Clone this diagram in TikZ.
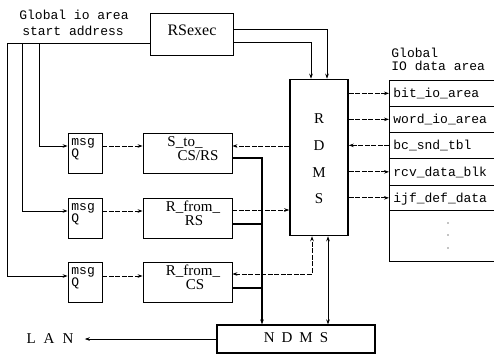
\documentclass[tikz,border=0pt]{standalone}
\usepackage{fontspec}
\setmainfont{Liberation Serif}
\setmonofont{Liberation Mono}
\usetikzlibrary{arrows.meta}
\tikzset{
  box/.style={draw, inner sep=0pt, line width=0.8pt},
  mono/.style={font=\ttfamily\fontsize{13}{14}\selectfont, inner sep=0pt},
  serif/.style={font=\fontsize{15}{17}\selectfont, inner sep=0pt},
  arr/.style={-{Stealth[length=5pt,width=3.6pt]}},
  biarr/.style={{Stealth[length=5pt,width=3.6pt]}-{Stealth[length=5pt,width=3.6pt]}},
  dsh/.style={dash pattern=on 5pt off 1.5pt},
  row/.style={draw, inner sep=0pt, line width=0.7pt, minimum width=111pt},
  heavy/.style={line width=1.2pt}
}
\begin{document}
\begin{tikzpicture}[x=1pt,y=-1pt,line width=0.8pt]
\useasboundingbox (0,0) rectangle (494,354);

% top-left label
\node[mono, anchor=base] (g1) at (74,19) {Global io area};
\node[mono, anchor=base] (g2) at (73,35) {start address};

% RSexec
\node[box, minimum width=83pt, minimum height=42pt] (rsexec) at (191.5,34) {};
\node[serif, font=\fontsize{16}{18}\selectfont] (rsexecT) at (192,30) {RSexec};

% msg Q boxes
\node[box, minimum width=34pt, minimum height=40pt] (q1) at (85,153) {};
\node[box, minimum width=34pt, minimum height=40pt] (q2) at (85,218) {};
\node[box, minimum width=34pt, minimum height=40pt] (q3) at (85,282) {};
\node[mono, anchor=base west] (q1a) at (71,145) {msg};
\node[mono, anchor=base west] (q1b) at (71,157) {Q};
\node[mono, anchor=base west] (q2a) at (71,210) {msg};
\node[mono, anchor=base west] (q2b) at (71,222) {Q};
\node[mono, anchor=base west] (q3a) at (71,274) {msg};
\node[mono, anchor=base west] (q3b) at (71,286) {Q};

% process boxes
\node[box, minimum width=89pt, minimum height=40pt] (sto) at (187.5,153) {};
\node[box, minimum width=89pt, minimum height=40pt] (rfr) at (187.5,218) {};
\node[box, minimum width=89pt, minimum height=40pt] (rfc) at (187.5,282) {};
\node[serif, anchor=base] (stoA) at (185,146.5) {S\_to\_};
\node[serif, anchor=base] (stoB) at (198,160.5) {CS/RS};
\node[serif, anchor=base] (rfrA) at (193,211.5) {R\_from\_};
\node[serif, anchor=base] (rfrB) at (194,225.5) {RS};
\node[serif, anchor=base] (rfcA) at (193,275.5) {R\_from\_};
\node[serif, anchor=base] (rfcB) at (195,289.5) {CS};

% RDMS
\node[box, line width=1.6pt, minimum width=58pt, minimum height=156pt] (rdms) at (319,157.5) {};
\node[serif] (rR) at (319,119) {R};
\node[serif] (rD) at (319,146) {D};
\node[serif] (rM) at (319,173) {M};
\node[serif] (rS) at (319,199) {S};

% Global IO data area table
\node[mono, anchor=base west] (h1) at (391,57) {Global};
\node[mono, anchor=base west] (h2) at (391,70) {IO data area};
\node[row, minimum height=26pt, anchor=north west] (t1) at (389,80) {};
\node[row, minimum height=26pt, anchor=north west] (t2) at (389,106) {};
\node[row, minimum height=26pt, anchor=north west] (t3) at (389,132) {};
\node[row, minimum height=27pt, anchor=north west] (t4) at (389,158) {};
\node[row, minimum height=25pt, anchor=north west] (t5) at (389,185) {};
\node[row, minimum height=51pt, anchor=north west] (t6) at (389,210) {};
\node[mono, anchor=base west] (t1T) at (393,97) {bit\_io\_area};
\node[mono, anchor=base west] (t2T) at (393,123) {word\_io\_area};
\node[mono, anchor=base west] (t3T) at (393,149) {bc\_snd\_tbl};
\node[mono, anchor=base west] (t4T) at (393,176) {rcv\_data\_blk};
\node[mono, anchor=base west] (t5T) at (393,202) {ijf\_def\_data};
\fill (448,223) circle (0.7pt);
\fill (448,235) circle (0.7pt);
\fill (448,248) circle (0.7pt);

% NDMS and LAN
\node[box, line width=1.2pt, minimum width=158pt, minimum height=28pt] (ndms) at (296,339) {};
\node[serif] (ndmsT) at (296,338) {N\hspace{7pt}D\hspace{7pt}M\hspace{7pt}S};
\node[serif] (lan) at (50,339) {L\hspace{8pt}A\hspace{8pt}N};

% RSexec -> RDMS
\draw[arr] (rsexec.east |- 0,29) -| (rdms.north -| 327,0);
\draw[arr] (rsexec.east |- 0,42) -| (rdms.north -| 311,0);

% start-address bus
\coordinate (bus1) at (39,43);
\coordinate (bus2) at (22,43);
\coordinate (bus3) at (7,43);
\draw (rsexec.west |- 0,43) -- (bus3);
\draw[arr] (bus1) |- (q1.west |- 0,146);
\draw[arr] (bus2) |- (q2.west |- 0,211);
\draw[arr] (bus3) |- (q3.west |- 0,276);

% msgQ -> processes
\draw[arr,dsh] (q1.east |- 0,146) -- (sto.west |- 0,146);
\draw[arr,dsh] (q2.east |- 0,211) -- (rfr.west |- 0,211);
\draw[arr,dsh] (q3.east |- 0,276) -- (rfc.west |- 0,276);

% processes <-> RDMS
\draw[arr,dsh] (rdms.west |- 0,146) -- (sto.east |- 0,146);
\draw[arr,dsh] (rfr.east |- 0,210) -- (rdms.west |- 0,210);
\draw[biarr,dsh] (rfc.east |- 0,274) -| (rdms.south -| 312,0);

% processes -> NDMS
\draw[arr,heavy] (sto.east |- 0,158) -| (ndms.north -| 262,0);
\draw[heavy] (rfr.east |- 0,224) -- (262,224);
\draw[heavy] (rfc.east |- 0,288) -- (262,288);

% RDMS <-> NDMS
\draw[biarr] (rdms.south -| 328,0) -- (ndms.north -| 328,0);

% RDMS <-> table
\draw[arr,dsh] (rdms.east |- t1.west) -- (t1.west);
\draw[arr,dsh] (rdms.east |- t2.west) -- (t2.west);
\draw[arr,dsh] (t3.west) -- (rdms.east |- t3.west);
\draw[arr,dsh] (rdms.east |- t4.west) -- (t4.west);
\draw[arr,dsh] (rdms.east |- t5.west) -- (t5.west);

% NDMS -> LAN
\draw[arr] (ndms.west) -- ([xshift=11pt]lan.east);
\end{tikzpicture}
\end{document}
